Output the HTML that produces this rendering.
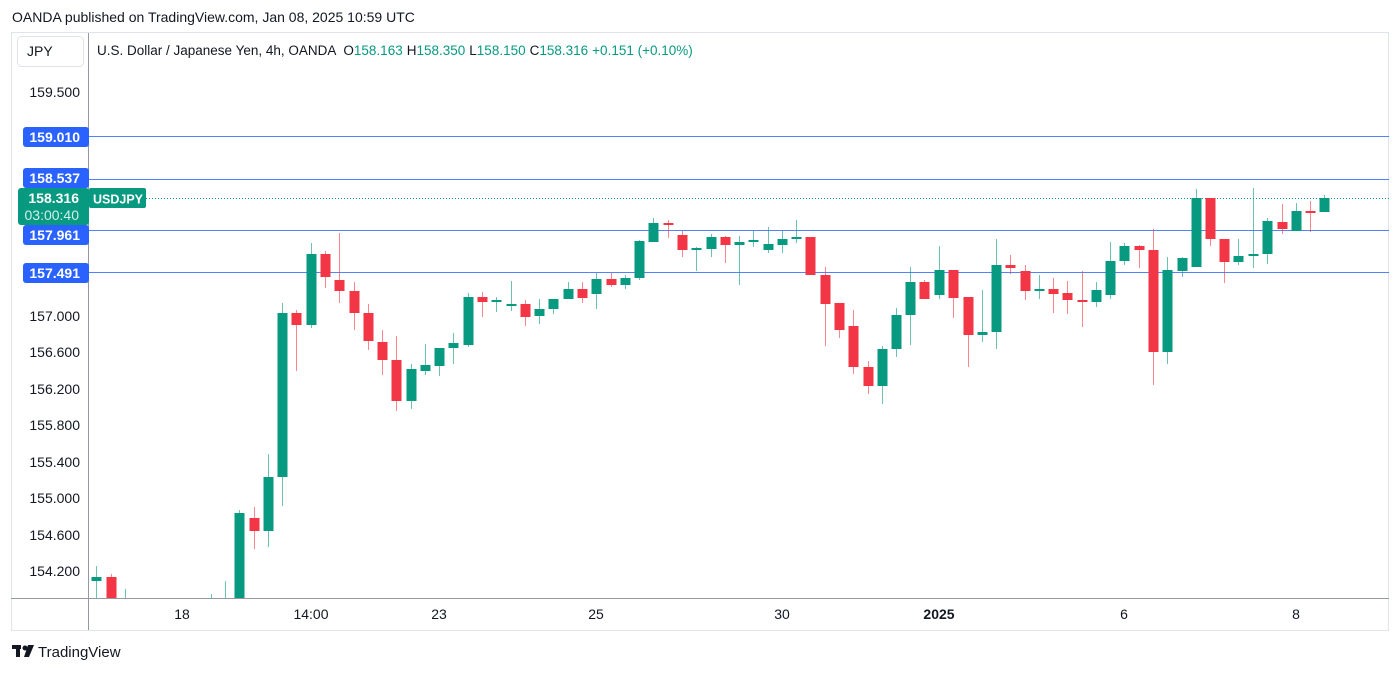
<!DOCTYPE html>
<html><head><meta charset="utf-8"><style>
body{margin:0;background:#fff;width:1400px;height:672px;overflow:hidden;font-family:"Liberation Sans",sans-serif}
</style></head><body>
<svg id="s" width="1400" height="672" xmlns="http://www.w3.org/2000/svg" font-family="Liberation Sans, sans-serif">
<text x="12" y="22" font-size="14" fill="#131722">OANDA published on TradingView.com, Jan 08, 2025 10:59 UTC</text>
<rect x="11.5" y="32.5" width="1377" height="598" fill="none" stroke="#e0e3eb"/>
<line x1="88.5" y1="33" x2="88.5" y2="630" stroke="#9598a1"/>
<line x1="11" y1="598.5" x2="1389" y2="598.5" stroke="#9598a1"/>
<rect x="17.5" y="36.5" width="66" height="30" rx="4" fill="#fff" stroke="#e0e3eb"/>
<text x="27" y="56" font-size="14" fill="#131722">JPY</text>
<text x="97" y="55" font-size="13.5" fill="#131722">U.S. Dollar / Japanese Yen, 4h, OANDA <tspan dx="4">O</tspan><tspan fill="#089981">158.163</tspan><tspan dx="4">H</tspan><tspan fill="#089981">158.350</tspan><tspan dx="4">L</tspan><tspan fill="#089981">158.150</tspan><tspan dx="4">C</tspan><tspan fill="#089981">158.316</tspan><tspan dx="4" fill="#089981">+0.151 (+0.10%)</tspan></text>
<g font-size="14" fill="#131722" text-anchor="end">
<text x="80" y="97">159.500</text><text x="80" y="321">157.000</text><text x="80" y="357">156.600</text><text x="80" y="394">156.200</text><text x="80" y="430">155.800</text><text x="80" y="467">155.400</text><text x="80" y="503">155.000</text><text x="80" y="540">154.600</text><text x="80" y="576">154.200</text>
</g>
<g stroke="#2962ff" stroke-opacity="0.8">
<line x1="88" y1="136.5" x2="1389" y2="136.5"/><line x1="88" y1="179.5" x2="1389" y2="179.5"/><line x1="88" y1="230.5" x2="1389" y2="230.5"/><line x1="88" y1="272.5" x2="1389" y2="272.5"/>
</g>
<line x1="146" y1="198.5" x2="1389" y2="198.5" stroke="#089981" stroke-dasharray="1 2"/>
<g id="c"></g>
<g font-size="14" font-weight="bold" fill="#fff" text-anchor="end">
<rect x="23" y="127" width="66" height="20" rx="3" fill="#2962ff"/><text x="80" y="142">159.010</text>
<rect x="23" y="168" width="66" height="20" rx="3" fill="#2962ff"/><text x="80" y="183">158.537</text>
<rect x="23" y="225" width="66" height="20" rx="3" fill="#2962ff"/><text x="80" y="240">157.961</text>
<rect x="23" y="263" width="66" height="20" rx="3" fill="#2962ff"/><text x="80" y="278">157.491</text>
<rect x="18" y="188" width="71" height="37" rx="3" fill="#089981"/><text x="79" y="203">158.316</text>
<text x="79" y="220" font-weight="normal" fill="#d0efe8">03:00:40</text>
<rect x="89" y="188" width="57" height="20" rx="2" fill="#089981"/><text x="93" y="203.5" font-size="13" text-anchor="start" textLength="50" lengthAdjust="spacingAndGlyphs">USDJPY</text>
</g>
<g font-size="14" fill="#131722" text-anchor="middle">
<text x="182" y="619">18</text><text x="311" y="619">14:00</text><text x="439" y="619">23</text><text x="596" y="619">25</text><text x="782" y="619">30</text><text x="939" y="619" font-weight="bold">2025</text><text x="1124" y="619">6</text><text x="1296" y="619">8</text>
</g>
<g fill="#131722"><rect x="12" y="645" width="9" height="4"/><rect x="16" y="645" width="4" height="12"/><circle cx="25" cy="648" r="2.5"/><polygon points="28,645 34,645 29,657 24,657"/></g>
<text x="38" y="657" font-size="15" fill="#131722">TradingView</text>
</svg>
<script>
var d=[[96,581,577,566,598],[111,577,600,574,600],[125,600,600,589,600],[211,600,600,594,600],[225,600,600,581,600],
[239,598,513,510,598],[254,518,531,507,549],[268,531,477,454,547],[282,477,313,303,506],[296,313,325,310,371],[311,325,254,243,328],
[325,254,277,251,288],[339,280,291,233,303],[354,291,313,282,330],[368,313,341,304,350],[382,342,360,330,375],[396,360,401,336,411],
[411,401,369,364,409],[425,371,365,344,375],[439,366,348,348,376],[453,348,343,333,364],[468,345,297,293,347],[482,297,302,292,317],
[496,302,300,297,312],[511,305,304,281,311],[525,304,317,300,326],[539,316,309,299,324],[553,309,299,299,314],[568,299,289,282,299],
[582,289,298,282,303],[596,294,279,273,309],[611,279,285,273,287],[625,285,278,275,289],[639,278,241,240,280],[653,242,223,218,242],
[668,223,225,220,238],[682,235,250,231,257],[696,250,248,247,271],[711,249,237,234,257],[725,237,245,236,263],[739,245,242,236,285],
[753,242,240,231,247],[768,250,244,227,253],[782,245,239,231,253],[796,239,237,220,243],[810,237,275,237,275],[825,275,304,267,346],
[839,303,330,303,338],[853,326,367,310,374],[868,367,386,361,394],[882,386,349,346,404],[896,349,315,308,357],[910,315,282,267,345],
[924,282,299,280,299],[939,295,270,246,299],[953,270,298,270,318],[968,297,335,297,367],[982,335,332,290,342],[996,332,265,239,349],
[1010,265,268,255,274],[1025,271,291,265,300],[1039,291,289,275,299],[1053,289,294,278,313],[1067,293,300,281,314],[1082,300,301,271,327],
[1096,302,290,282,307],[1110,295,261,242,299],[1124,261,246,243,265],[1139,246,250,245,268],[1153,250,352,229,385],[1167,352,270,257,364],
[1182,271,258,257,277],[1196,267,198,189,267],[1210,198,239,198,246],[1224,239,262,239,283],[1238,262,256,239,265],[1253,256,254,188,268],
[1267,254,221,218,264],[1282,222,229,204,234],[1296,231,211,203,231],[1310,211,212,201,232],[1324,212,198,195,212]];
var g=document.getElementById('c'),h='';
d.forEach(function(a){var x=a[0],o=a[1],c=a[2],up=c<=o,col=up?'#089981':'#f23645';
var t=Math.min(o,c),b=Math.max(o,c);if(b>598)b=598;var l=Math.min(a[4],598);
h+='<line x1="'+(x+0.5)+'" x2="'+(x+0.5)+'" y1="'+a[3]+'" y2="'+l+'" stroke="'+col+'" stroke-opacity="0.6"/>';
if(t<598)h+='<rect x="'+(x-4.5)+'" y="'+t+'" width="10" height="'+Math.max(b-t,2)+'" fill="'+col+'"/>';});
g.innerHTML=h;
</script>
</body></html>
